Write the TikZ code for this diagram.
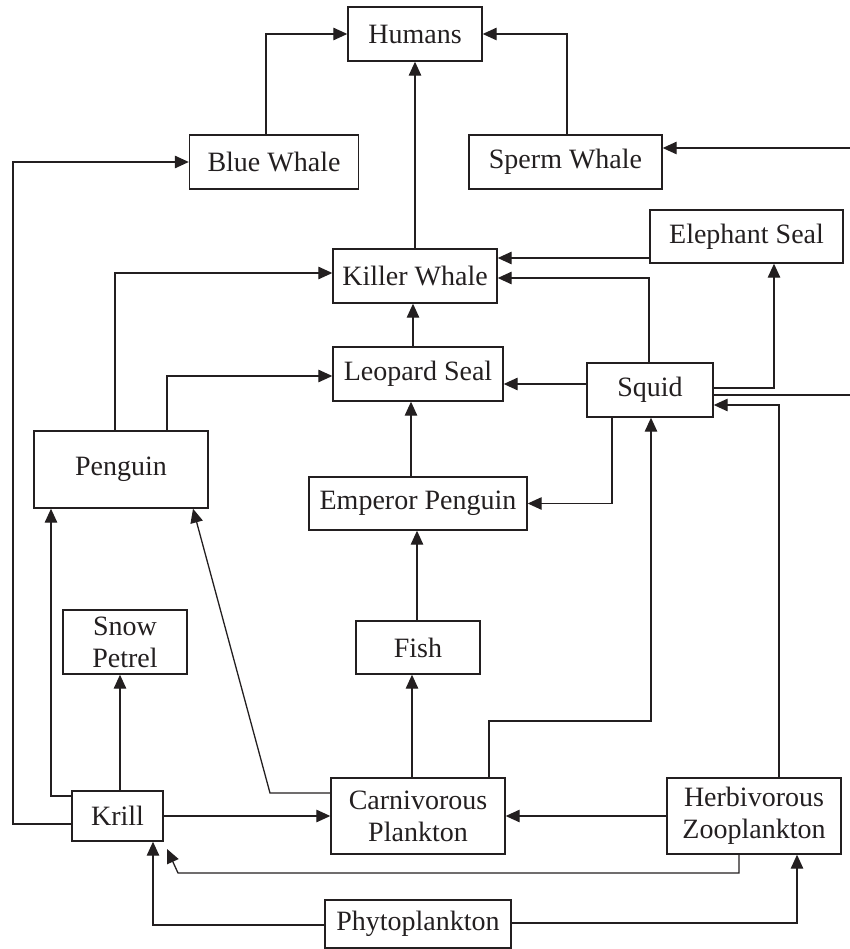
\documentclass[tikz,border=0pt]{standalone}
\usepackage{fontspec}
\setmainfont{Liberation Serif}
\usetikzlibrary{arrows.meta,calc}
\definecolor{ink}{HTML}{231F20}
\begin{document}
\begin{tikzpicture}[x=1pt,y=-1pt,
  box/.style={draw=ink,line width=1.4pt,inner sep=0pt,align=center,text=ink,
    font=\fontsize{28}{32}\selectfont},
  arr/.style={draw=ink,line width=1.3pt,-{Triangle[length=14pt,width=12.5pt]}},
  ln/.style={draw=ink,line width=1.3pt}]
\useasboundingbox (0,0) rectangle (850,949);
% nodes
\node[box,minimum width=134pt,minimum height=54pt] (hum) at (415,34) {Humans};
\node[box,minimum width=169pt,minimum height=54pt] (blue) at (274,162) {Blue Whale};
\node[box,minimum width=193pt,minimum height=54pt] (sperm) at (565.5,162) {Sperm Whale};
\node[box,minimum width=193pt,minimum height=53pt] (eleph) at (746.5,236.5) {Elephant Seal};
\node[box,minimum width=164pt,minimum height=54pt] (killer) at (415,276) {Killer Whale};
\node[box,minimum width=170pt,minimum height=54pt] (leop) at (418,374) {Leopard Seal};
\node[box,minimum width=126pt,minimum height=54pt] (squid) at (650,390) {Squid};
\node[box,minimum width=174pt,minimum height=77pt] (peng) at (121,469.5) {Penguin};
\node[box,minimum width=218pt,minimum height=53pt] (emp) at (418,503.5) {Emperor Penguin};
\node[box,minimum width=124pt,minimum height=53pt] (fish) at (418,647.5) {Fish};
\node[box,minimum width=124pt,minimum height=64pt] (snow) at (125,642) {Snow\\Petrel};
\node[box,minimum width=91pt,minimum height=50pt] (krill) at (117.5,816) {Krill};
\node[box,minimum width=174pt,minimum height=76pt] (carn) at (418,816) {Carnivorous\\Plankton};
\node[box,minimum width=174pt,minimum height=76pt] (herb) at (754,816) {Herbivorous\\Zooplankton};
\node[box,minimum width=186pt,minimum height=48pt] (phyto) at (418,924) {Phytoplankton};
% free ends at the right border
\coordinate (rin) at (850,148);
\coordinate (rout) at (850,395);
% connectors
\draw[arr] (266,0 |- blue.north) |- (hum.west);
\draw[arr] (567,0 |- sperm.north) |- (hum.east);
\draw[arr] (killer.north) -- (hum.south);
\draw[arr] (krill.west |- 0,824) -| (13,0 |- blue.west) -- (blue.west);
\draw[arr] (rin) -- (sperm.east |- rin);
\draw[arr] (eleph.west |- 0,258) -- (killer.east |- 0,258);
\draw[arr] (649,0 |- squid.north) |- (killer.east |- 0,278);
\draw[arr] (squid.east |- 0,388) -| (774,0 |- eleph.south);
\draw[ln] (squid.east |- rout) -- (rout);
\draw[arr] (779,0 |- herb.north) |- (squid.east |- 0,405);
\draw[arr] (squid.west |- 0,384) -- (leop.east |- 0,384);
\draw[arr] (413,0 |- leop.north) -- (413,0 |- killer.south);
\draw[arr] (411,0 |- emp.north) -- (411,0 |- leop.south);
\draw[arr] (612,0 |- squid.south) |- (emp.east);
\draw[arr] (417,0 |- fish.north) -- (417,0 |- emp.south);
\draw[arr] (412,0 |- carn.north) -- (412,0 |- fish.south);
\draw[arr] (489,0 |- carn.north) -- (489,721) -| (651,0 |- squid.south);
\draw[arr] (115,0 |- peng.north) |- (killer.west |- 0,273);
\draw[arr] (167,0 |- peng.north) |- (leop.west |- 0,376);
\draw[arr] (krill.west |- 0,796) -| (51,0 |- peng.south);
\draw[arr] (120,0 |- krill.north) -- (120,0 |- snow.south);
\draw[arr] (carn.west |- 0,793) -- (270,793) -- (193,0 |- peng.south);
\draw[arr] (krill.east) -- (carn.west);
\draw[arr] (herb.west) -- (carn.east);
\draw[arr,shorten >=8pt] (739,0 |- herb.south) |- (178,873) -- (krill.south east);
\draw[arr] (phyto.west |- 0,925) -| (153,0 |- krill.south);
\draw[arr] (phyto.east |- 0,923) -| (797,0 |- herb.south);
\end{tikzpicture}
\end{document}
